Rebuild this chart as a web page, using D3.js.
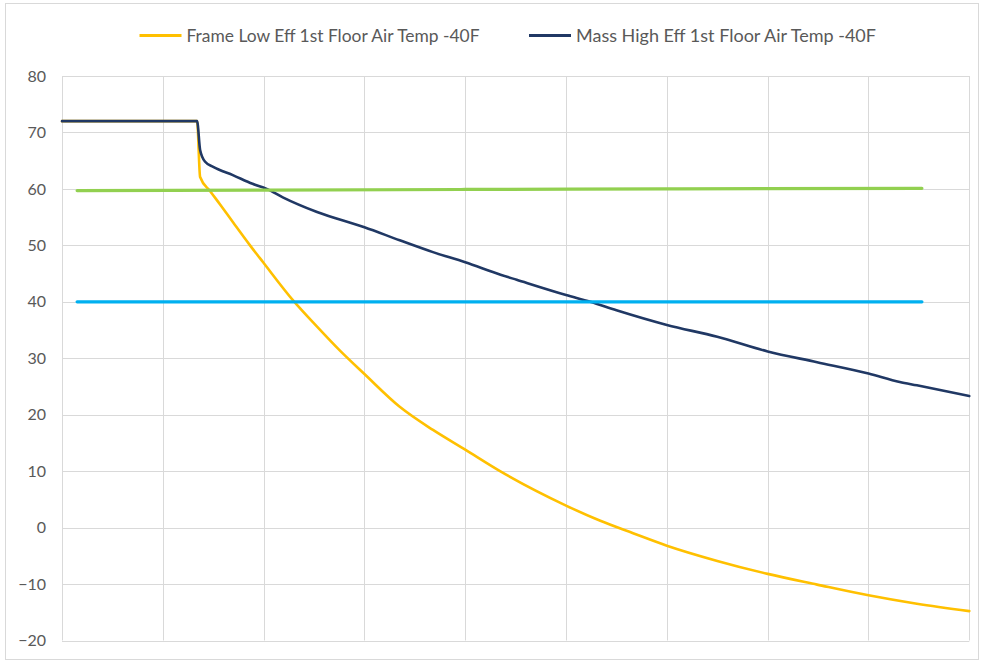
<!DOCTYPE html>
<html>
<head>
<meta charset="utf-8">
<script src="https://cdn.jsdelivr.net/npm/d3@7"></script>
<style>
  html, body { margin: 0; padding: 0; background: #fff; }
  svg { display: block; }
  text { font-family: Lato, "Open Sans", sans-serif; }
</style>
</head>
<body>
<svg id="chart" width="982" height="662"></svg>
<script>
// ---- data (x in hours, y in °F) ----
const yTicks = [-20, -10, 0, 10, 20, 30, 40, 50, 60, 70, 80];
const xGrid = [0, 10, 20, 30, 40, 50, 60, 70, 80, 90];

const seriesNames = ["Frame Low Eff 1st Floor Air Temp -40F", "Mass High Eff 1st Floor Air Temp -40F"];

const frameX = [0, 8.2, 13.4, 13.7, 14.7, 15.7, 17.0, 18.65, 19.95, 22.9, 25.3, 27.6, 30.0, 33.5, 36.8, 40.0, 43.45, 50.0, 53.4, 56.65, 60.0, 65.0, 70.0, 74.9, 80.0, 84.8, 90.0];
const frameY = [72, 72, 72, 62.1, 59.6, 57.2, 54.0, 50.0, 47.0, 40.3, 35.6, 31.3, 27.2, 21.4, 17.3, 13.8, 10.0, 3.9, 1.2, -1.0, -3.2, -5.9, -8.2, -10.1, -12.0, -13.5, -14.8];

const massX = [0, 8.2, 13.4, 13.7, 14.2, 15.0, 17.0, 18.9, 20.3, 21.9, 25.3, 30.0, 33.5, 36.8, 40.0, 43.5, 45.1, 50.0, 52.4, 55.0, 60.0, 65.0, 70.0, 74.9, 80.0, 83.1, 84.8, 90.0];
const massY = [72, 72, 72, 66.9, 64.8, 63.9, 62.4, 60.9, 60.0, 58.5, 55.9, 53.2, 50.9, 48.8, 47.0, 44.8, 43.9, 41.2, 40.0, 38.5, 35.9, 33.8, 31.2, 29.3, 27.3, 25.8, 25.2, 23.3];

const refX = [1.5, 20, 40, 60, 85.3];
const upperRefY = [59.7, 59.8, 59.9, 60.0, 60.1];
const lowerRefY = [40, 40, 40, 40, 40];

// ---- layout ----
const svg = d3.select("#chart");
const plot = { left: 62, right: 969.3, top: 76, bottom: 640.5 };

const x = d3.scaleLinear().domain([0, 90]).range([plot.left, plot.right]);
const y = d3.scaleLinear().domain([-20, 80]).range([plot.bottom, plot.top]);

// outer border
svg.append("rect")
  .attr("x", 5.5).attr("y", 3.5).attr("width", 973).attr("height", 656)
  .attr("fill", "#fff").attr("stroke", "#d9d9d9").attr("stroke-width", 1);

// gridlines
svg.append("g").selectAll("line").data(yTicks).join("line")
  .attr("x1", plot.left).attr("x2", plot.right)
  .attr("y1", d => Math.round(y(d)) + 0.5).attr("y2", d => Math.round(y(d)) + 0.5)
  .attr("stroke", "#d9d9d9").attr("stroke-width", 1);

svg.append("g").selectAll("line").data(xGrid).join("line")
  .attr("x1", d => Math.round(x(d)) + 0.5).attr("x2", d => Math.round(x(d)) + 0.5)
  .attr("y1", plot.top).attr("y2", plot.bottom)
  .attr("stroke", "#d9d9d9").attr("stroke-width", 1);

// y axis labels via d3 axis
const yAxis = d3.axisLeft(y).tickValues(yTicks).tickSize(0).tickPadding(0).tickFormat(d3.format("d"));
const gy = svg.append("g").attr("transform", `translate(46,0)`).call(yAxis);
gy.select(".domain").remove();
gy.selectAll("text").attr("fill", "#595959").attr("font-size", 16).attr("font-family", "Lato, 'Open Sans', sans-serif");

// lines
const line = d3.line().x(d => x(d[0])).y(d => y(d[1])).curve(d3.curveMonotoneX);
const zip = (a, b) => a.map((v, i) => [v, b[i]]);

const drawLine = (data, color, w) => svg.append("path")
  .attr("d", line(data)).attr("fill", "none")
  .attr("stroke", color).attr("stroke-width", w)
  .attr("stroke-linejoin", "round").attr("stroke-linecap", "round");

drawLine(zip(frameX, frameY), "#FFC000", 2.6);
drawLine(zip(massX, massY), "#203864", 2.6);
drawLine(zip(refX, upperRefY), "#92D050", 3.2);
drawLine(zip(refX, lowerRefY), "#00B0F0", 3.2);

// legend
const legend = [
  { name: seriesNames[0], color: "#FFC000", x0: 139.5, len: 293 },
  { name: seriesNames[1], color: "#203864", x0: 529, len: 300 }
];
const lg = svg.append("g");
legend.forEach(l => {
  lg.append("line").attr("x1", l.x0).attr("x2", l.x0 + 42)
    .attr("y1", 35.5).attr("y2", 35.5).attr("stroke", l.color).attr("stroke-width", 3);
  lg.append("text").attr("x", l.x0 + 47).attr("y", 41.7)
    .attr("font-size", 17).attr("fill", "#595959")
    .attr("textLength", l.len).attr("lengthAdjust", "spacingAndGlyphs")
    .text(l.name);
});
</script>
</body>
</html>
